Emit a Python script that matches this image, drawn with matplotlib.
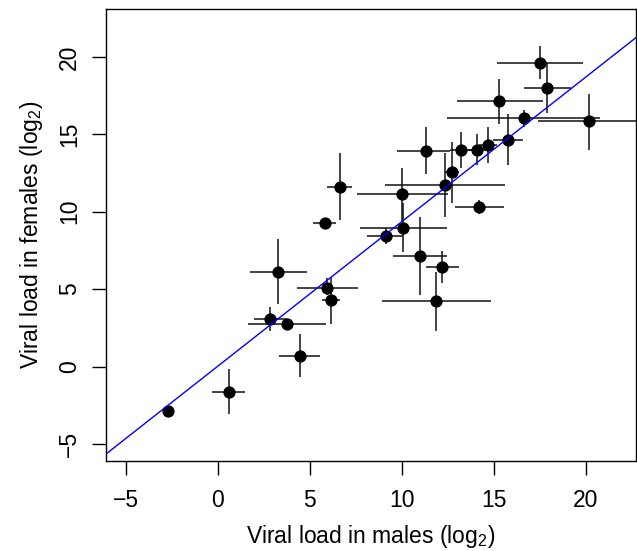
import numpy as np
import matplotlib
matplotlib.use("Agg")
import matplotlib.pyplot as plt

plt.rcParams['font.family'] = ['Liberation Sans', 'DejaVu Sans']
plt.rcParams['mathtext.fontset'] = 'custom'
plt.rcParams['mathtext.rm'] = 'Liberation Sans'
plt.rcParams['mathtext.it'] = 'Liberation Sans'

# viral load (log2), males vs females, with error bar ends
males = [-2.72, 0.59, 3.29, 2.85, 3.74, 4.45, 5.91, 6.15, 5.80, 6.64,
         9.13, 10.03, 10.08, 10.98, 12.20, 11.85, 14.17, 11.33, 12.34, 12.70,
         13.20, 14.11, 14.69, 15.74, 15.29, 16.64, 17.50, 17.86, 20.18]
females = [-2.89, -1.65, 6.11, 3.07, 2.72, 0.70, 5.09, 4.27, 9.28, 11.61,
           8.42, 11.12, 8.96, 7.17, 6.42, 4.24, 10.31, 13.93, 11.72, 12.55,
           13.96, 14.00, 14.29, 14.66, 17.14, 16.02, 19.61, 17.96, 15.85]
males_lo = [-2.72, -0.29, 1.75, 1.98, 1.66, 3.34, 4.28, 5.64, 5.19, 5.95,
            8.12, 7.58, 7.72, 9.53, 11.31, 8.90, 12.88, 9.72, 9.08, 12.34,
            12.60, 13.60, 14.20, 14.95, 12.98, 12.47, 15.15, 16.61, 17.41]
males_hi = [-2.72, 1.49, 4.83, 3.74, 5.86, 5.55, 7.63, 6.64, 6.42, 7.31,
            10.08, 12.52, 12.47, 12.47, 13.11, 14.82, 15.55, 12.61, 15.60, 13.12,
            13.90, 14.60, 15.15, 16.56, 17.66, 20.76, 19.85, 19.19, 24.00]
females_lo = [-2.89, -3.09, 4.02, 2.29, 2.50, -0.70, 4.60, 2.74, 9.28, 9.46,
              7.91, 9.40, 7.39, 4.62, 5.37, 2.31, 9.85, 12.43, 9.64, 10.57,
              12.80, 13.01, 13.12, 13.01, 15.66, 15.50, 18.54, 16.35, 13.96]
females_hi = [-2.89, -0.18, 8.21, 3.86, 2.90, 2.10, 5.69, 5.76, 9.28, 13.80,
              8.92, 12.85, 10.54, 9.67, 7.47, 6.12, 10.75, 15.44, 13.80, 14.51,
              15.16, 14.99, 15.48, 16.28, 18.56, 16.56, 20.69, 19.57, 17.60]

fit_slope = 0.934
fit_intercept = 0.02


def main():
    x = np.array(males)
    y = np.array(females)
    xerr = [x - np.array(males_lo), np.array(males_hi) - x]
    yerr = [y - np.array(females_lo), np.array(females_hi) - y]

    fig = plt.figure(figsize=(6.37, 5.51), dpi=100)
    ax = fig.add_axes([106 / 637, 1 - 461 / 551, 530 / 637, (461 - 8.5) / 551])

    ax.errorbar(x, y, xerr=xerr, yerr=yerr, fmt='none', ecolor='#111111',
                elinewidth=1.1, capsize=0, zorder=2)
    ax.plot(x, y, 'o', color='black', markersize=7.8, zorder=3)

    xs = np.array([-10, 30])
    ax.plot(xs, fit_intercept + fit_slope * xs, color='blue', lw=1.0, zorder=4)

    ax.set_xlim(-6.07, 22.72)
    ax.set_ylim(-6.1, 23.12)
    ax.set_xticks([-5, 0, 5, 10, 15, 20])
    ax.set_yticks([-5, 0, 5, 10, 15, 20])
    ax.tick_params(length=10, width=1.0, labelsize=16.5)
    ax.tick_params(axis='x', pad=10)
    ax.tick_params(axis='y', pad=8)
    plt.setp(ax.get_yticklabels(), rotation=90, va='center')
    for s in ax.spines.values():
        s.set_linewidth(1.0)

    ax.set_xlabel(r'Viral load in males (log$_2$)', fontsize=16.5, labelpad=8)
    ax.set_ylabel(r'Viral load in females (log$_2$)', fontsize=16.5, labelpad=9)

    plt.savefig('out.png', dpi=100)


if __name__ == "__main__":
    main()
